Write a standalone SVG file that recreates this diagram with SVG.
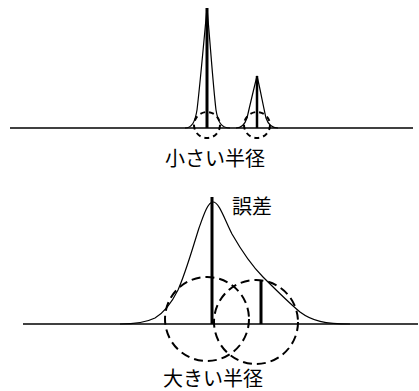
<svg xmlns="http://www.w3.org/2000/svg" width="419" height="391" viewBox="0 0 419 391">
<style>
.base{stroke:#000;stroke-width:1.5;fill:none}
.curve{stroke:#000;stroke-width:1.2;fill:none}
.bar{stroke:#000;stroke-width:3;fill:none}
.cs{stroke:#000;stroke-width:2;fill:none;stroke-dasharray:5 4}
.cb{stroke:#000;stroke-width:2;fill:none;stroke-dasharray:9 5}
text{font-family:"Noto Sans CJK JP","Noto Sans CJK SC",sans-serif;font-size:20px;fill:#000}
</style>
<rect width="419" height="391" fill="#fff"/>
<g id="small-radius">
<line class="base" x1="10" y1="128" x2="413" y2="128"/>
<path class="curve" d="M185 128 C192 128,195 122,197 110 C200 85,204 40,207 8 C210 40,213 85,216 110 C218 122,221 128,230 128"/>
<path class="curve" d="M236 128 C242 128,245 124,247 118 C250 105,254 88,257 76 C260 88,263 105,266 118 C268 124,271 128,278 128"/>
<line class="bar" x1="207" y1="8" x2="207" y2="128"/>
<line class="bar" x1="257" y1="76" x2="257" y2="128" style="stroke-width:2.5"/>
<circle class="cs" cx="207" cy="125" r="13"/>
<circle class="cs" cx="257" cy="125" r="13"/>
<text x="165" y="166">小さい半径</text>
</g>
<g id="large-radius">
<line class="base" x1="23" y1="324" x2="418" y2="324"/>
<path class="curve" d="M120 324 C135 324,145 323,155 318 C165 312,172 302,178 290 C186 272,192 250,199 228 C204 214,208 202,213 202 C219 202,224 218,232 234 C240 248,250 264,263 277 C275 289,288 302,300 312 C312 321,325 324,350 324"/>
<line class="bar" x1="212" y1="197" x2="212" y2="324"/>
<line class="bar" x1="261" y1="280" x2="261" y2="324"/>
<circle class="cb" cx="207" cy="319" r="42"/>
<circle class="cb" cx="256" cy="322" r="42"/>
<text x="232" y="214">誤差</text>
<text x="163" y="386">大きい半径</text>
</g>
</svg>
